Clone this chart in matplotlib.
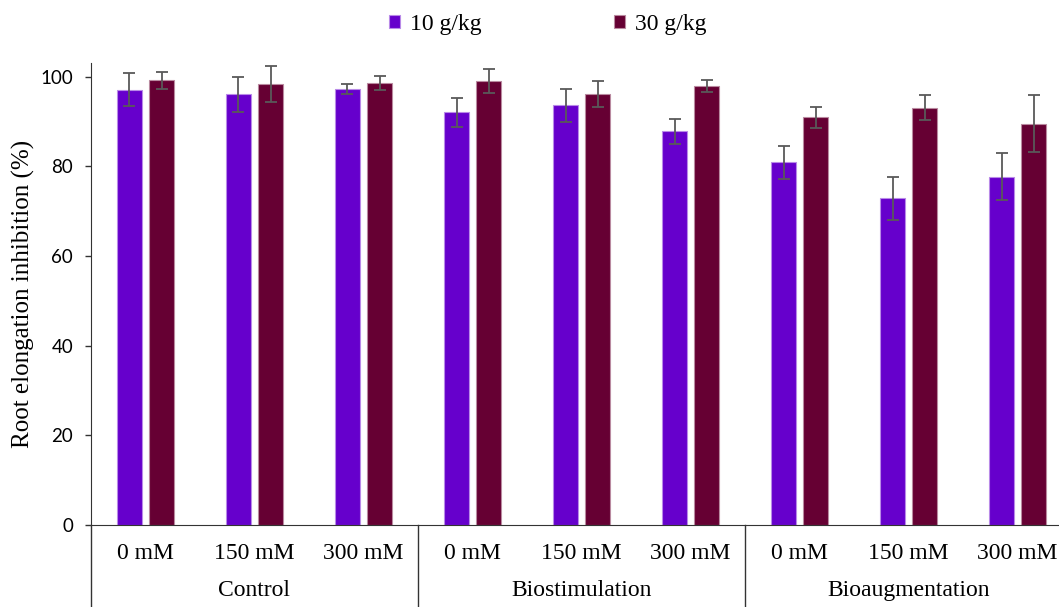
import numpy as np
import matplotlib.pyplot as plt
import matplotlib.transforms as mtransforms

# nồng độ muối và nhóm xử lý
conc = ['0 mM', '150 mM', '300 mM'] * 3
groups = ['Control', 'Biostimulation', 'Bioaugmentation']

# root elongation inhibition (%)
low = [97.1, 96.0, 97.2, 92.0, 93.6, 87.8, 80.9, 72.9, 77.7]
low_err = [3.7, 3.9, 1.1, 3.2, 3.7, 2.8, 3.7, 4.8, 5.2]
high = [99.2, 98.4, 98.6, 99.0, 96.1, 97.9, 90.9, 93.0, 89.5]
high_err = [1.9, 4.0, 1.5, 2.6, 2.8, 1.3, 2.4, 2.8, 6.3]

series = ['10 g/kg', '30 g/kg']

fig = plt.figure(figsize=(10.59, 6.07), dpi=100)
ax = fig.add_axes([0.0859, 0.1351, 0.9265, 0.761])

x = np.arange(len(conc))
w = 0.23
d = 0.147
ax.bar(x - d, low, w, color='#6600CC', edgecolor='#B98AE8', linewidth=0.8, label=series[0])
ax.bar(x + d, high, w, color='#660033', edgecolor='#B98AA0', linewidth=0.8, label=series[1])
ax.errorbar(x - d, low, yerr=low_err, fmt='none', ecolor='#595959', elinewidth=1.3, capsize=4, capthick=1.3)
ax.errorbar(x + d, high, yerr=high_err, fmt='none', ecolor='#595959', elinewidth=1.3, capsize=4, capthick=1.3)

ax.set_xlim(-0.5, len(conc) - 0.5)
ax.set_ylim(0, 103)
ax.set_yticks([0, 20, 40, 60, 80, 100])
ax.tick_params(axis='y', labelsize=13.5, length=4.3, width=1, pad=8.5, color='#333333', labelcolor='black')
for t in ax.get_yticklabels():
    t.set_family('Lato')
ax.set_xticks([])

for s in ['top', 'right']:
    ax.spines[s].set_visible(False)
ax.spines['left'].set_color('#333333')
ax.spines['bottom'].set_color('#333333')

ax.set_ylabel('Root elongation inhibition (%)', family='Liberation Serif', fontsize=18, labelpad=4)

# nhãn trục x hai tầng
trans = mtransforms.blended_transform_factory(ax.transData, ax.transAxes)
for i, c in enumerate(conc):
    ax.text(x[i], -0.062, c, transform=trans, ha='center', va='center',
            family='Liberation Serif', fontsize=17)
for j, g in enumerate(groups):
    ax.text(3 * j + 1, -0.142, g, transform=trans, ha='center', va='center',
            family='Liberation Serif', fontsize=17)
for b in [-0.5, 2.5, 5.5]:
    ax.plot([b, b], [0, -0.3], transform=trans, color='#333333', lw=1, clip_on=False)

leg = fig.legend(loc='center', bbox_to_anchor=(0.517, 0.96), ncol=2, frameon=False,
                 prop={'family': 'Liberation Serif', 'size': 17},
                 handlelength=0.5, handleheight=0.5, handletextpad=0.4, columnspacing=5.6)

plt.savefig('out.png', dpi=100)
